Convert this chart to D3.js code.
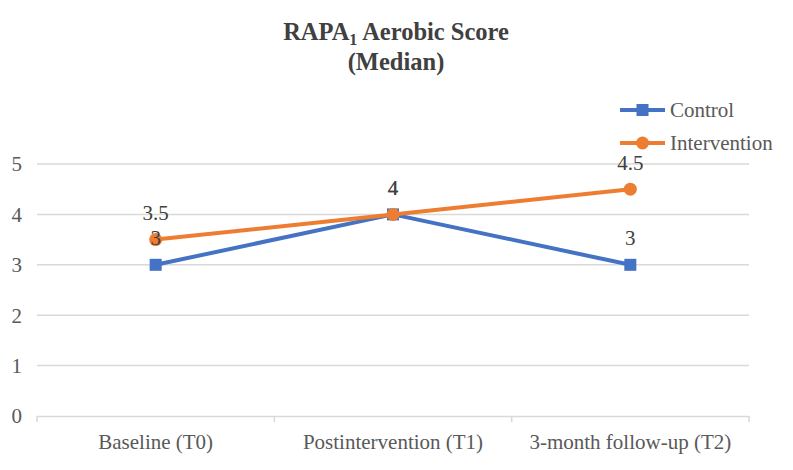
<!DOCTYPE html>
<html><head><meta charset="utf-8">
<script src="https://cdn.jsdelivr.net/npm/d3@7/dist/d3.min.js"></script>
<style>body{margin:0;background:#fff}svg{display:block}svg text{font-family:"Liberation Serif","Times New Roman","DejaVu Serif",serif !important}</style>
</head><body><svg id="c" width="793" height="470"></svg>
<script>
const categories = ["Baseline (T0)", "Postintervention (T1)", "3-month follow-up (T2)"];
const controlValues = [3, 4, 3];
const interventionValues = [3.5, 4, 4.5];
const yTicks = [0, 1, 2, 3, 4, 5];
const seriesNames = ["Control", "Intervention"];

const svg = d3.select("#c");
const FS = 21;
const M = {left: 37, right: 749, top: 164, bottom: 416};
const x = d3.scaleBand().domain(categories).range([M.left, M.right]);
const y = d3.scaleLinear().domain([0, 5]).range([M.bottom, M.top]);

svg.append("g").selectAll("line").data(yTicks.filter(d => d > 0)).join("line")
  .attr("x1", M.left).attr("x2", M.right)
  .attr("y1", d => y(d)).attr("y2", d => y(d))
  .attr("stroke", "#d9d9d9").attr("stroke-width", 1.5);

svg.append("g").selectAll("text").data(yTicks).join("text")
  .attr("x", 22).attr("y", d => y(d)).attr("dy", "0.35em")
  .attr("text-anchor", "end").attr("font-size", FS)
  .attr("fill", "#595959").text(d => d);

const xAxis = d3.axisBottom(x).tickSize(0).tickSizeOuter(0);
const gx = svg.append("g").attr("transform", `translate(0,${M.bottom})`).call(xAxis);
gx.select(".domain").attr("stroke", "#d9d9d9").attr("stroke-width", 1.5);
gx.selectAll("text").attr("font-size", FS).attr("fill", "#595959").attr("y", 26).attr("dy", "0.35em");
const bounds = categories.map(c => x(c)).concat([M.right]);
svg.append("g").selectAll("line").data(bounds).join("line")
  .attr("x1", d => d).attr("x2", d => d).attr("y1", M.bottom).attr("y2", M.bottom + 6)
  .attr("stroke", "#d9d9d9").attr("stroke-width", 1.5);

const cx = c => x(c) + x.bandwidth() / 2;
const colors = ["#4472C4", "#ED7D31"];
const data = [controlValues, interventionValues];
const line = d3.line().x((d, i) => cx(categories[i])).y(d => y(d));

data.forEach((vals, s) => {
  svg.append("path").datum(vals).attr("d", line).attr("fill", "none")
    .attr("stroke", colors[s]).attr("stroke-width", 4).attr("stroke-linejoin", "round");
});
svg.append("g").selectAll("rect").data(controlValues).join("rect")
  .attr("x", (d, i) => cx(categories[i]) - 6).attr("y", d => y(d) - 6)
  .attr("width", 12).attr("height", 12).attr("fill", colors[0]);
svg.append("g").selectAll("circle").data(interventionValues).join("circle")
  .attr("cx", (d, i) => cx(categories[i])).attr("cy", d => y(d)).attr("r", 6.5)
  .attr("fill", colors[1]);

data.forEach((vals, s) => {
  svg.append("g").selectAll("text").data(vals).join("text")
    .attr("x", (d, i) => cx(categories[i])).attr("y", d => y(d) - 27).attr("dy", "0.35em")
    .attr("text-anchor", "middle").attr("font-size", FS)
    .attr("fill", "#404040").text(d => d);
});

seriesNames.forEach((n, s) => {
  const ly = 110 + s * 33;
  const g = svg.append("g");
  g.append("line").attr("x1", 620).attr("x2", 665).attr("y1", ly).attr("y2", ly)
    .attr("stroke", colors[s]).attr("stroke-width", 4);
  if (s === 0) g.append("rect").attr("x", 636.5).attr("y", ly - 6).attr("width", 12).attr("height", 12).attr("fill", colors[s]);
  else g.append("circle").attr("cx", 642.5).attr("cy", ly).attr("r", 6.5).attr("fill", colors[s]);
  g.append("text").attr("x", 670).attr("y", ly).attr("dy", "0.35em")
    .attr("font-size", FS).attr("fill", "#595959").text(n);
});

const t = svg.append("text").attr("x", 396).attr("y", 40).attr("text-anchor", "middle")
  .attr("font-size", 24.5).attr("font-weight", "bold").attr("fill", "#404040");
t.append("tspan").text("RAPA");
t.append("tspan").attr("font-size", 16).attr("dy", 5).text("1");
t.append("tspan").attr("dy", -5).text(" Aerobic Score");
svg.append("text").attr("x", 396).attr("y", 70).attr("text-anchor", "middle")
  .attr("font-size", 24.5).attr("font-weight", "bold").attr("fill", "#404040")
  .text("(Median)");
</script></body></html>
